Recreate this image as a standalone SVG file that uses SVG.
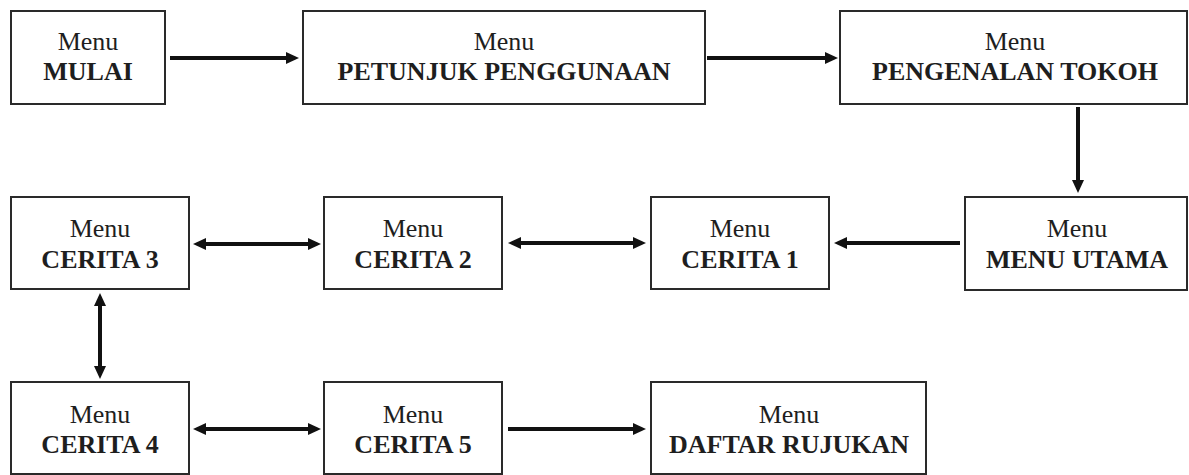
<svg xmlns="http://www.w3.org/2000/svg" width="1189" height="475" viewBox="0 0 1189 475">
<style>
.box{fill:#fff;stroke:#2a2a2a;stroke-width:2}
.t{font-family:"Liberation Serif","Times New Roman",serif;font-size:26px;fill:#1e1e1e;text-anchor:middle}
.b{font-weight:bold}
.c{stroke:#111;stroke-width:4;fill:none}
.one{marker-end:url(#ah)}
.two{marker-start:url(#ah);marker-end:url(#ah)}
</style>
<defs>
<marker id="ah" markerUnits="userSpaceOnUse" markerWidth="13" markerHeight="12" refX="2" refY="6" orient="auto-start-reverse">
<path d="M0,0 L13,6 L0,12 z" fill="#111"/>
</marker>
</defs>
<rect width="1189" height="475" fill="#fff"/>
<g id="n-mulai"><rect class="box" x="11" y="11" width="154" height="93"/><text class="t" x="88" y="50">Menu</text><text class="t b" x="88" y="80">MULAI</text></g>
<g id="n-petunjuk"><rect class="box" x="303" y="11" width="402" height="93"/><text class="t" x="504" y="50">Menu</text><text class="t b" x="504" y="80">PETUNJUK PENGGUNAAN</text></g>
<g id="n-pengenalan"><rect class="box" x="840" y="11" width="347" height="93"/><text class="t" x="1015" y="50">Menu</text><text class="t b" x="1015" y="80">PENGENALAN TOKOH</text></g>
<g id="n-utama"><rect class="box" x="965" y="197" width="222" height="93"/><text class="t" x="1077" y="237">Menu</text><text class="t b" x="1077" y="268">MENU UTAMA</text></g>
<g id="n-cerita1"><rect class="box" x="651" y="197" width="178" height="92"/><text class="t" x="740" y="237">Menu</text><text class="t b" x="740" y="268">CERITA 1</text></g>
<g id="n-cerita2"><rect class="box" x="324" y="197" width="178" height="92"/><text class="t" x="413" y="237">Menu</text><text class="t b" x="413" y="268">CERITA 2</text></g>
<g id="n-cerita3"><rect class="box" x="11" y="197" width="178" height="92"/><text class="t" x="100" y="237">Menu</text><text class="t b" x="100" y="268">CERITA 3</text></g>
<g id="n-cerita4"><rect class="box" x="11" y="382" width="178" height="92"/><text class="t" x="100" y="423">Menu</text><text class="t b" x="100" y="453">CERITA 4</text></g>
<g id="n-cerita5"><rect class="box" x="324" y="382" width="178" height="92"/><text class="t" x="413" y="423">Menu</text><text class="t b" x="413" y="453">CERITA 5</text></g>
<g id="n-daftar"><rect class="box" x="651" y="382" width="275" height="92"/><text class="t" x="789" y="423">Menu</text><text class="t b" x="789" y="453">DAFTAR RUJUKAN</text></g>
<g id="connectors">
<line class="c one" x1="170" y1="58" x2="288" y2="58"/>
<line class="c one" x1="707" y1="58" x2="827" y2="58"/>
<line class="c one" x1="1078" y1="107" x2="1078" y2="182"/>
<line class="c one" x1="960" y1="243" x2="845" y2="243"/>
<line class="c two" x1="519" y1="243" x2="635" y2="243"/>
<line class="c two" x1="204" y1="244" x2="310" y2="244"/>
<line class="c two" x1="100" y1="304" x2="100" y2="368"/>
<line class="c two" x1="204" y1="429" x2="310" y2="429"/>
<line class="c one" x1="508" y1="429" x2="635" y2="429"/>
</g>
</svg>
